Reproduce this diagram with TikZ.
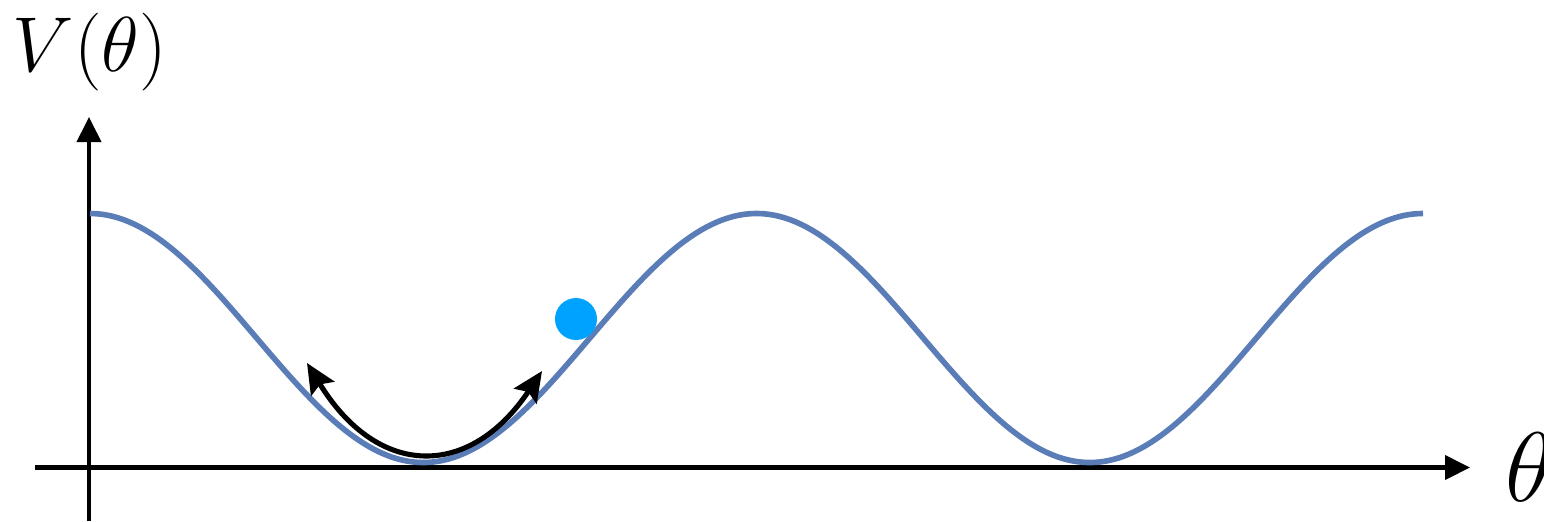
\documentclass[tikz,border=0pt]{standalone}
\usepackage{amsmath}
\usepackage{tikz}
\usetikzlibrary{arrows.meta}
\definecolor{curveblue}{RGB}{90,125,184}
\definecolor{ballblue}{RGB}{0,162,255}

\begin{document}
\begin{tikzpicture}[
  axis/.style={line width=1.15pt, -{Triangle[length=0.25cm, width=0.24cm]}},
  potential/.style={curveblue, line width=1.6pt},
  swing/.style={line width=1.45pt, {Stealth[length=0.3cm, width=0.27cm, inset=0.05cm]}-{Stealth[length=0.3cm, width=0.27cm, inset=0.05cm]}},
  ball/.style={circle, fill=ballblue, inner sep=0pt, minimum size=0.42cm},
  biglabel/.style={inner sep=0pt, font=\Huge, transform shape}
]
\useasboundingbox (0,0) rectangle (15.44,5.21);

% Axes
\coordinate (x-start) at (0.35,0.535);
\coordinate (x-end) at (14.70,0.535);
\coordinate (y-start) at (0.89,0);
\coordinate (y-end) at (0.89,4.04);
\draw[axis] (x-start) -- (x-end);
\draw[axis] (y-start) -- (y-end);

% Axis labels
\node[biglabel, scale=0.89] (v-label) at (0.90,4.69) {$V(\theta)$};
\node[biglabel, scale=1.13, anchor=west] (theta-label) at (15.05,0.54) {$\theta$};

% Potential
\draw[potential] plot[domain=0:720, samples=241, smooth] ({0.90+\x/720*13.33},{1.83+1.245*cos(\x)});

% Ball on the slope
\node[ball] (ball) at (5.76,2.02) {};

% Oscillation around the minimum
\coordinate (swing-left) at (3.07,1.58);
\coordinate (swing-right) at (5.42,1.50);
\draw[swing] (swing-left) .. controls (3.78,0.42) and (4.70,0.42) .. (swing-right);
\end{tikzpicture}
\end{document}
